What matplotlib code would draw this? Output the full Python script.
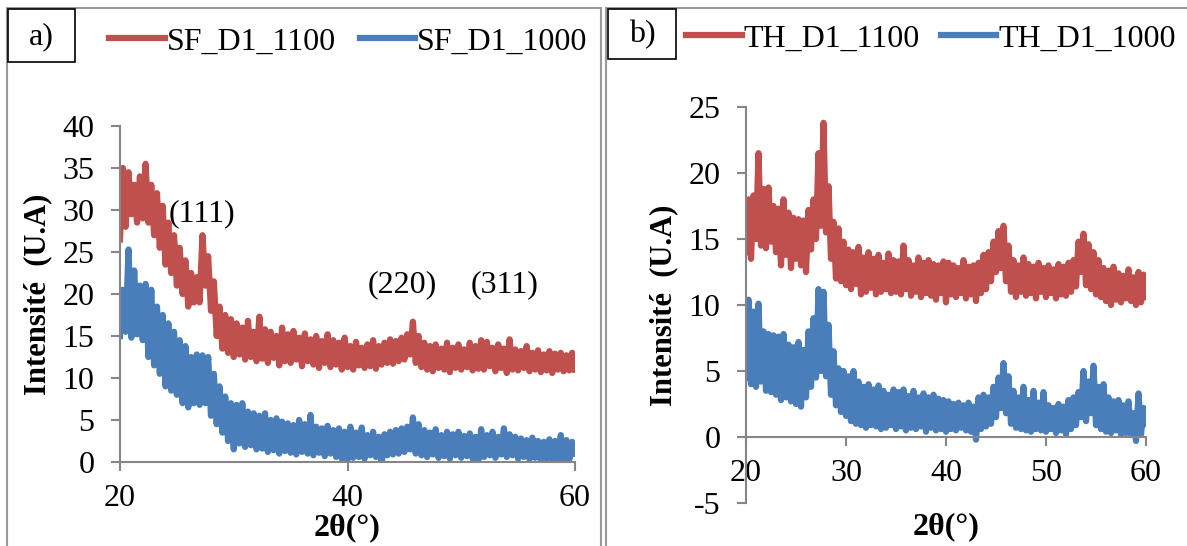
import matplotlib
matplotlib.use("Agg")
import matplotlib.pyplot as plt
from matplotlib.patches import Rectangle
import numpy as np

plt.rcParams["font.family"] = ["Liberation Serif", "DejaVu Serif"]
plt.rcParams["axes.unicode_minus"] = False

# 2theta scan grid, 0.25 deg step
two_theta = np.linspace(20, 60, 161)

# a) SF samples (5 deg per row)
sf_1100 = [
    26.5, 35.0, 28.0, 34.5, 29.5, 33.0, 28.5, 34.0, 29.0, 35.5, 28.5, 33.0, 27.0, 32.0, 25.5, 30.5, 23.5, 28.5, 22.5, 27.0,
    21.0, 25.5, 20.0, 24.0, 18.5, 22.5, 19.0, 22.0, 19.0, 27.0, 21.0, 24.5, 18.0, 21.5, 15.0, 18.5, 13.5, 17.5, 13.0, 17.0,
    12.5, 16.5, 12.8, 16.0, 12.2, 16.8, 12.5, 15.5, 12.0, 17.3, 12.3, 15.8, 11.8, 15.5, 12.4, 15.0, 11.5, 16.0, 12.0, 15.2,
    11.8, 15.6, 12.2, 14.8, 11.4, 15.3, 12.0, 14.6, 11.6, 15.0, 11.2, 14.4, 11.8, 15.2, 11.3, 14.5, 11.6, 14.2, 11.0, 14.8,
    11.3, 13.8, 11.0, 14.3, 11.5, 13.6, 11.2, 14.0, 11.4, 14.5, 11.1, 13.8, 11.6, 14.2, 11.8, 14.6, 11.7, 14.4, 12.0, 14.8,
    12.2, 15.2, 12.8, 16.7, 11.8, 15.0, 11.3, 14.2, 11.0, 13.8, 10.8, 14.0, 11.2, 13.5, 11.0, 14.2, 10.7, 13.6, 11.2, 14.0,
    11.0, 13.4, 11.3, 14.2, 10.9, 13.8, 11.1, 14.5, 11.0, 14.3, 11.4, 13.6, 10.8, 14.0, 11.2, 13.5, 10.6, 14.6, 11.0, 13.4,
    10.9, 13.2, 11.2, 13.8, 10.8, 13.0, 11.0, 13.3, 10.7, 12.8, 10.9, 13.2, 10.6, 12.9, 11.0, 13.0, 10.8, 12.7, 10.9, 13.0,
    11.0,
]
sf_1000 = [
    15.0, 20.5, 15.5, 25.3, 14.8, 22.8, 15.2, 21.0, 14.5, 21.2, 12.5, 20.5, 11.5, 18.5, 10.5, 17.5, 9.0, 16.5, 8.5, 15.5,
    8.0, 14.5, 7.0, 13.8, 6.5, 12.5, 7.0, 12.8, 6.8, 12.7, 7.0, 12.5, 5.5, 10.5, 4.5, 9.0, 3.5, 7.8, 2.5, 7.0,
    1.5, 6.8, 2.2, 7.0, 1.8, 6.0, 2.0, 5.8, 1.5, 5.5, 1.6, 5.8, 1.2, 5.0, 1.4, 5.2, 1.0, 4.8, 1.3, 4.6,
    1.1, 4.4, 0.9, 5.0, 1.2, 4.5, 1.0, 5.6, 0.8, 4.2, 1.1, 4.0, 0.7, 4.3, 1.0, 3.8, 0.6, 4.0, 0.4, 3.6,
    0.2, 4.2, 0.5, 3.5, 0.6, 4.1, 0.4, 3.2, 0.8, 3.6, 0.6, 3.0, -0.3, 3.3, 0.8, 3.6, 0.9, 3.8, 1.0, 4.0,
    1.2, 4.2, 1.5, 5.3, 1.0, 4.5, 0.8, 3.8, 0.6, 3.5, 0.9, 3.9, 0.5, 3.2, 0.7, 3.6, 0.4, 3.3, 0.8, 3.6,
    0.5, 3.1, 0.7, 3.4, 0.4, 3.0, 0.2, 3.9, 0.6, 3.2, 0.8, 3.6, 0.5, 3.0, 0.9, 4.0, 0.6, 3.3, 0.8, 3.0,
    0.4, 2.8, 0.6, 2.6, 0.3, 2.9, 0.5, 2.5, 0.2, 2.4, 0.4, 2.7, 0.2, 2.5, 0.3, 3.2, 0.1, 2.6, 0.3, 2.4,
    1.0,
]

# b) TH samples
th_1100 = [
    14.0, 18.0, 13.5, 18.3, 15.0, 21.5, 14.5, 18.8, 14.3, 18.9, 14.8, 17.5, 14.0, 17.3, 13.0, 18.0, 13.8, 17.0, 12.8, 16.6,
    13.5, 16.5, 13.0, 16.4, 12.5, 17.2, 14.2, 18.0, 15.0, 21.5, 16.0, 23.8, 15.5, 19.0, 13.5, 16.3, 12.0, 15.8, 11.8, 14.8,
    11.5, 14.2, 11.2, 14.0, 11.6, 14.4, 10.8, 13.6, 11.0, 14.0, 11.3, 13.5, 10.8, 13.8, 11.0, 13.2, 11.2, 13.9, 10.9, 13.4,
    11.0, 13.3, 10.8, 14.5, 11.2, 13.4, 10.7, 13.0, 11.0, 13.6, 10.6, 13.2, 10.9, 13.4, 10.7, 13.1, 10.4, 13.0, 10.9, 13.3,
    10.2, 13.2, 10.8, 13.0, 10.6, 12.8, 10.9, 13.4, 10.5, 12.9, 10.8, 13.0, 10.3, 13.2, 10.9, 13.8, 11.2, 14.0, 11.8, 14.8,
    12.5, 15.6, 12.8, 16.0, 11.8, 14.5, 11.0, 13.4, 10.6, 13.0, 11.0, 13.6, 10.7, 13.1, 10.9, 12.9, 10.5, 13.2, 11.0, 12.8,
    10.6, 13.0, 10.9, 12.7, 10.5, 13.1, 10.8, 12.9, 10.7, 13.2, 11.0, 13.4, 11.4, 14.8, 12.5, 15.4, 11.5, 14.6, 11.2, 14.0,
    10.8, 13.4, 10.6, 12.8, 10.3, 12.6, 10.0, 12.9, 10.4, 12.4, 10.2, 12.2, 10.5, 12.7, 10.3, 12.1, 10.0, 12.5, 10.2, 12.3,
    10.6,
]
th_1000 = [
    4.5, 10.4, 4.0, 9.5, 3.8, 10.1, 4.2, 8.0, 3.5, 7.8, 3.4, 7.7, 3.2, 7.6, 2.8, 7.8, 3.0, 7.0, 2.7, 6.8,
    2.5, 7.2, 2.3, 6.6, 3.0, 8.0, 3.8, 9.0, 4.5, 11.2, 5.0, 11.0, 4.6, 8.5, 3.2, 6.5, 2.4, 5.2, 1.9, 5.0,
    1.6, 4.6, 1.2, 5.0, 1.0, 4.2, 0.9, 3.8, 0.7, 4.0, 0.9, 3.6, 0.8, 3.9, 0.6, 3.5, 0.7, 3.2, 0.9, 3.6,
    0.6, 3.4, 0.8, 3.6, 0.5, 3.1, 0.7, 3.5, 0.6, 3.0, 0.8, 3.3, 0.4, 3.0, 0.7, 3.2, 0.5, 2.9, 0.6, 2.8,
    0.4, 2.7, 0.6, 2.5, 0.5, 2.6, 0.7, 2.4, 0.5, 2.6, 0.4, 2.3, -0.2, 3.0, 0.6, 3.2, 0.8, 3.0, 1.0, 3.8,
    1.5, 4.5, 2.2, 5.6, 1.8, 4.6, 1.0, 3.5, 0.7, 3.0, 0.6, 3.8, 0.5, 2.8, 0.4, 3.5, 0.6, 2.6, 0.5, 3.4,
    0.4, 2.4, 0.6, 2.2, 0.3, 2.5, 0.5, 2.3, 0.2, 2.8, 0.6, 3.0, 0.9, 3.4, 1.5, 5.0, 1.2, 4.2, 1.8, 5.4,
    0.9, 3.8, 0.6, 4.0, 0.4, 3.0, 0.3, 2.7, 0.5, 2.8, 0.2, 2.4, 0.3, 2.7, 0.2, 1.8, -0.3, 3.3, 0.2, 2.2,
    1.0,
]

RED = "#C0504D"
BLUE = "#4A7EBB"
GREY = "#868686"
FS = 23
LW = 4.5

W, H = 1187, 546
fig = plt.figure(figsize=(W / 100, H / 100), dpi=100)

# chart area frames (pixel boxes -> figure fraction)
def px_rect(x0, y0, x1, y1, **kw):
    r = Rectangle((x0 / W, 1 - y1 / H), (x1 - x0) / W, (y1 - y0) / H,
                  transform=fig.transFigure, fill=False, **kw)
    fig.patches.append(r)

px_rect(7, 8, 601, 560, edgecolor="#9a9a9a", linewidth=1.5)
px_rect(606, 8, 1195, 560, edgecolor="#9a9a9a", linewidth=1.5)
px_rect(8, 9, 75, 62, edgecolor="black", linewidth=1.2)
px_rect(608, 9, 676, 59, edgecolor="black", linewidth=1.2)
fig.text(41 / W, 1 - 37 / H, "a)", fontsize=FS, ha="center", va="center")
fig.text(642 / W, 1 - 35 / H, "b)", fontsize=FS, ha="center", va="center")


def style_axes(ax):
    for s in ("top", "right"):
        ax.spines[s].set_visible(False)
    for s in ("left", "bottom"):
        ax.spines[s].set_color(GREY)
        ax.spines[s].set_linewidth(1.5)
    ax.tick_params(direction="out", length=6.5, width=1.5, color=GREY,
                   labelsize=FS)
    ax.tick_params(axis="y", pad=12)
    ax.tick_params(axis="x", pad=9)
    ax.set_xlabel("2θ(°)", fontsize=FS, fontweight="bold", va="center")
    ax.set_ylabel("Intensité  (U.A)", fontsize=FS - 1, fontweight="bold",
                  va="center")


# ---- panel a
ax1 = fig.add_axes([120 / W, 1 - 462 / H, 455 / W, 336 / H])
ax1.plot(two_theta, sf_1100, color=RED, lw=LW, label="SF_D1_1100")
ax1.plot(two_theta, sf_1000, color=BLUE, lw=LW, label="SF_D1_1000")
ax1.set_xlim(20, 60)
ax1.set_ylim(0, 40)
ax1.set_xticks([20, 40, 60])
ax1.set_yticks(np.arange(0, 41, 5))
style_axes(ax1)
ax1.xaxis.set_label_coords(0.5, -(528 - 462) / 336)
ax1.yaxis.set_label_coords(-(120 - 38) / 455, 0.5)
for lbl, xx, yy in [("(111)", 27.2, 29.6), ("(220)", 44.8, 21.1), ("(311)", 53.8, 21.1)]:
    ax1.text(xx, yy, lbl, fontsize=FS, ha="center", va="center")
ax1.legend(loc="center left", bbox_to_anchor=(109 / W, 1 - 42 / H),
           bbox_transform=fig.transFigure, ncol=2, frameon=False, fontsize=FS,
           handlelength=1.75, handletextpad=0.05, columnspacing=0.75,
           borderpad=0, borderaxespad=0)

# ---- panel b
ax2 = fig.add_axes([746 / W, 1 - 503 / H, 400 / W, 396 / H])
ax2.plot(two_theta, th_1100, color=RED, lw=LW, label="TH_D1_1100")
ax2.plot(two_theta, th_1000, color=BLUE, lw=LW, label="TH_D1_1000")
ax2.set_xlim(20, 60)
ax2.set_ylim(-5, 25)
ax2.set_xticks(np.arange(20, 61, 10))
ax2.set_yticks(np.arange(-5, 26, 5))
style_axes(ax2)
ax2.spines["bottom"].set_position(("data", 0))
ax2.xaxis.set_label_coords(0.5, -(527 - 503) / 396)
ax2.yaxis.set_label_coords(-(746 - 664) / 400, (503 - 305) / 396)
ax2.legend(loc="center left", bbox_to_anchor=(686 / W, 1 - 39 / H),
           bbox_transform=fig.transFigure, ncol=2, frameon=False, fontsize=FS,
           handlelength=1.75, handletextpad=0.05, columnspacing=0.65,
           borderpad=0, borderaxespad=0)

fig.savefig("out.png", dpi=100)
